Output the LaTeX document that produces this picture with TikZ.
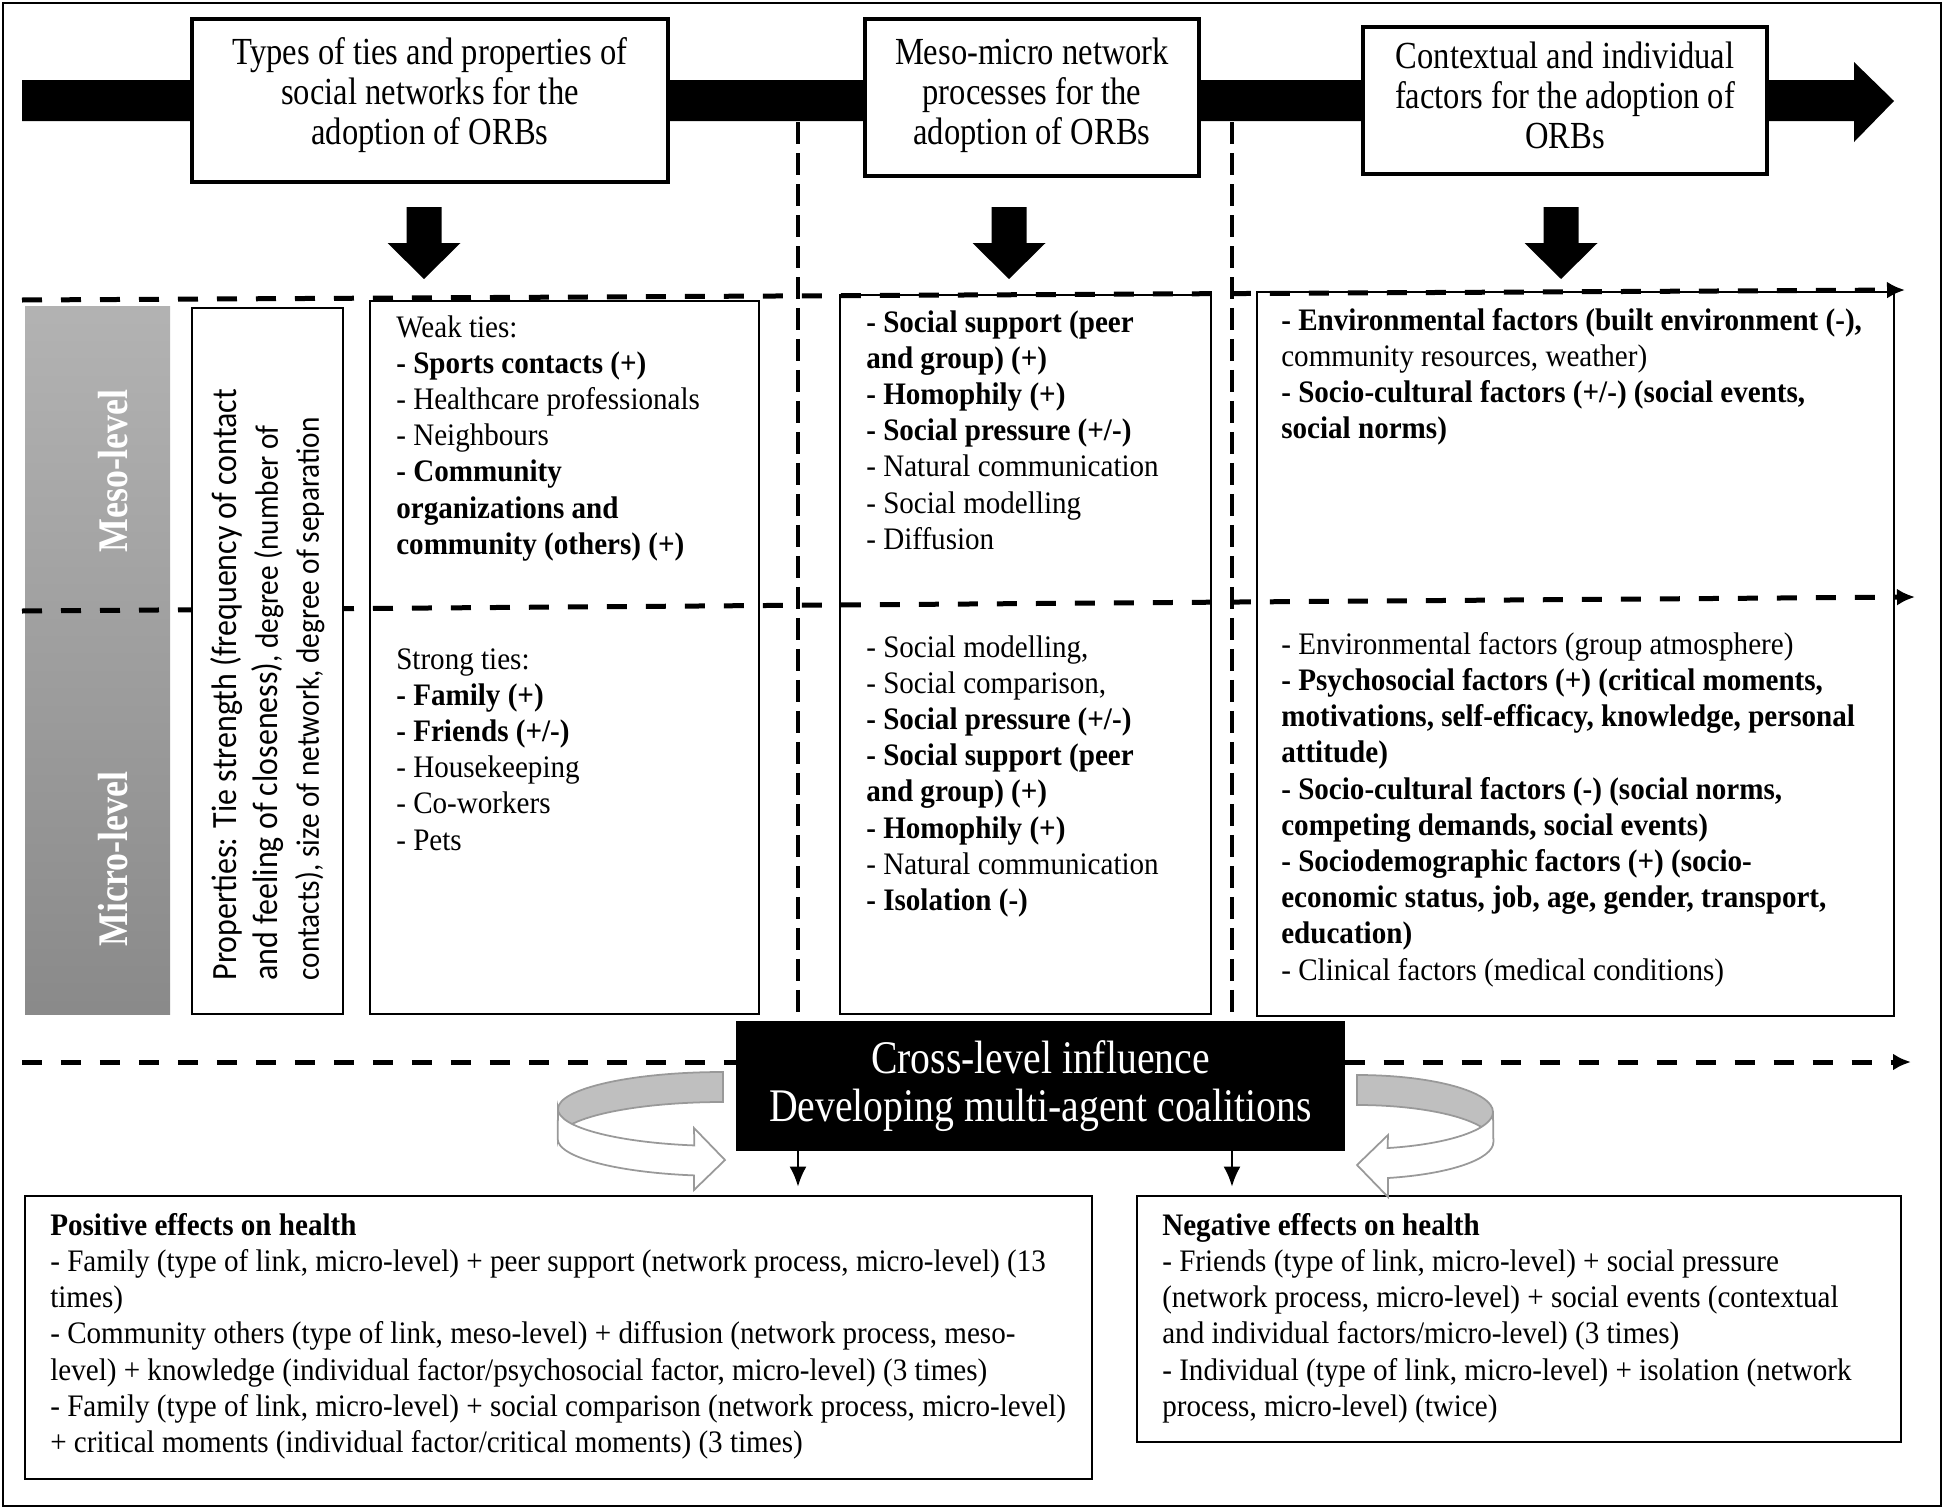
\documentclass[tikz,border=0pt]{standalone}
\usepackage{fontspec}
\setmainfont{Liberation Serif}[FakeStretch=0.85]
\newfontfamily\bodyfam{Liberation Serif}[FakeStretch=0.93]
\newfontfamily\propfont{Carlito}[FakeStretch=0.9]
\usetikzlibrary{positioning,arrows.meta}
\newcommand{\bodyfont}{\bodyfam\fontsize{8.9}{10.3}\selectfont}
\newcommand{\titlefont}{\fontsize{10.9}{11.4}\selectfont}
\newcommand{\crossfont}{\fontsize{13.3}{13.7}\selectfont}
\newcommand{\levelfont}{\fontsize{12}{14}\selectfont\bfseries}
\newcommand{\bigprop}{\fontsize{10.1}{11.7}\selectfont}
\newcommand{\smallprop}{\fontsize{9.25}{11.7}\selectfont}
\tikzstyle{framebox} = [draw, line width=0.8pt, inner sep=0pt]
\tikzstyle{titlebox} = [draw, line width=0.9pt, fill=white, align=center, font=\titlefont]
\tikzstyle{txt} = [anchor=north west, align=left, inner sep=0pt, font=\bodyfont]
\tikzstyle{levelname} = [rotate=90, text=white, font=\levelfont, inner sep=0pt]
\tikzstyle{sepline} = [line width=0.5mm, dash pattern=on 2mm off 1.9mm, -{Latex[length=1.8mm,width=1.7mm]}]
\tikzstyle{vdash} = [line width=0.35mm, dash pattern=on 2.2mm off 0.9mm]
\tikzstyle{drop} = [-{Latex[length=2mm,width=1.7mm]}, line width=0.6pt, shorten >=0.8mm]
\tikzstyle{backband} = [fill=black!25, draw=black!40, line width=0.5pt]
\tikzstyle{frontband} = [fill=white, draw=black!40, line width=0.5pt]

\begin{document}
\begin{tikzpicture}[x=0.1mm, y=-0.1mm]
\useasboundingbox (0,0) rectangle (1946,1511);
% main bar
\fill (22,80) -- (1854,80) -- (1854,62) -- (1894,101) -- (1854,142) -- (1854,121) -- (22,121) -- cycle;
\node[titlebox, minimum width=47.6mm, minimum height=16.3mm, text depth=5.2pt] (tiestitle) at (430,100.5)
  {Types of ties and properties of\\ social networks for the\\ adoption of ORBs};
\node[titlebox, minimum width=33.4mm, minimum height=15.7mm, text depth=3.8pt] (proctitle) at (1032,97.5)
  {Meso-micro network\\ processes for the\\ adoption of ORBs};
\node[titlebox, minimum width=40.4mm, minimum height=14.7mm, text depth=2.8pt] (ctxtitle) at (1565,100.5)
  {Contextual and individual\\ factors for the adoption of\\ ORBs};
% block arrows
\fill[shift={(424,0)}] (-17.5,207) -- (17.5,207) -- (17.5,243) -- (36.5,243) -- (0,279) -- (-36.5,243) -- (-17.5,243) -- cycle;
\fill[shift={(1009,0)}] (-17.5,207) -- (17.5,207) -- (17.5,243) -- (36.5,243) -- (0,279) -- (-36.5,243) -- (-17.5,243) -- cycle;
\fill[shift={(1561,0)}] (-17.5,207) -- (17.5,207) -- (17.5,243) -- (36.5,243) -- (0,279) -- (-36.5,243) -- (-17.5,243) -- cycle;
% levels
\node[top color=black!30, bottom color=black!46, minimum width=14.5mm, minimum height=70.8mm, inner sep=0pt] (levels) at (97.5,660) {};
\node[levelname] (meso) at (113,471) {Meso-level};
\node[levelname] (micro) at (113,859) {Micro-level};
% level lines
\coordinate (mesoL) at (22,300);
\coordinate (mesoR) at (1905,290);
\coordinate (microL) at (22,611);
\coordinate (microR) at (1915,597);
\coordinate (crossL) at (22,1062);
\coordinate (crossR) at (1911,1062);
\coordinate (split1) at (798,122);
\coordinate (split2) at (1232,122);
\draw[sepline] (mesoL) -- (mesoR);
\draw[sepline] (microL) -- (microR);
% boxes
\node[framebox, fill=white, minimum width=15.1mm, minimum height=70.6mm] (props) at (267.5,661) {};
\node[framebox, minimum width=38.9mm, minimum height=71.3mm] (ties) at (564.5,657.5) {};
\node[framebox, minimum width=37.1mm, minimum height=71.9mm] (netproc) at (1025.5,654.5) {};
\node[framebox, minimum width=63.7mm, minimum height=72.4mm] (factors) at (1575.5,654) {};
\node[framebox, minimum width=106.7mm, minimum height=28.3mm] (pos) at (558.5,1337.5) {};
\node[framebox, minimum width=76.4mm, minimum height=24.6mm] (neg) at (1519,1319) {};
\node[draw, fill=black, text=white, align=center, font=\crossfont, minimum width=60.7mm, minimum height=12.8mm] (cross) at (1040.5,1086)
  {Cross-level influence\\ Developing multi-agent coalitions};
\draw[sepline, -] (crossL) -- (crossL -| cross.west);
\draw[sepline] (crossL -| cross.east) -- (crossR);
\draw[vdash] (split1) -- (split1 |- cross.north);
\draw[vdash] (split2) -- (split2 |- cross.north);
\draw[drop] (split1 |- cross.south) -- (split1 |- pos.north);
\draw[drop] (split2 |- cross.south) -- (split2 |- neg.north);
% properties
\node[rotate=90, anchor=north west, align=left, inner sep=0pt, font=\propfont\smallprop] (proptext) at (210,981)
  {\bigprop Properties: Tie strength (frequency of contact\\
   \bigprop and feeling of closeness)\smallprop, degree (number of\\
   \smallprop contacts), size of network, degree of separation};
% texts
\node[txt, below right=1.5mm and 2.7mm of ties.north west] (weak)
  {Weak ties:\\ \textbf{- Sports contacts (+)}\\ - Healthcare professionals\\ - Neighbours\\
   \textbf{- Community}\\ \textbf{organizations and}\\ \textbf{community (others) (+)}};
\node[txt, below right=34.8mm and 2.7mm of ties.north west] (strong)
  {Strong ties:\\ \textbf{- Family (+)}\\ \textbf{- Friends (+/-)}\\ - Housekeeping\\ - Co-workers\\ - Pets};
\node[txt, below right=1.6mm and 2.7mm of netproc.north west] (mesoproc)
  {\textbf{- Social support (peer}\\ \textbf{and group) (+)}\\ \textbf{- Homophily (+)}\\ \textbf{- Social pressure (+/-)}\\
   - Natural communication\\ - Social modelling\\ - Diffusion};
\node[txt, below right=34.1mm and 2.7mm of netproc.north west] (microproc)
  {- Social modelling,\\ - Social comparison,\\ \textbf{- Social pressure (+/-)}\\ \textbf{- Social support (peer}\\
   \textbf{and group) (+)}\\ \textbf{- Homophily (+)}\\ - Natural communication\\ \textbf{- Isolation (-)}};
\node[txt, below right=1.7mm and 2.5mm of factors.north west] (mesofac)
  {\textbf{- Environmental factors (built environment (-),}\\ community resources, weather)\\
   \textbf{- Socio-cultural factors (+/-) (social events,}\\ \textbf{social norms)}};
\node[txt, below right=34.1mm and 2.5mm of factors.north west] (microfac)
  {- Environmental factors (group atmosphere)\\
   \textbf{- Psychosocial factors (+) (critical moments,}\\ \textbf{motivations, self-efficacy, knowledge, personal}\\ \textbf{attitude)}\\
   \textbf{- Socio-cultural factors (-) (social norms,}\\ \textbf{competing demands, social events)}\\
   \textbf{- Sociodemographic factors (+) (socio-}\\ \textbf{economic status, job, age, gender, transport,}\\ \textbf{education)}\\
   - Clinical factors (medical conditions)};
\node[txt, below right=1.8mm and 2.6mm of pos.north west] (postext)
  {\textbf{Positive effects on health}\\
   - Family (type of link, micro-level) + peer support (network process, micro-level) (13\\ times)\\
   - Community others (type of link, meso-level) + diffusion (network process, meso-\\
   level) + knowledge (individual factor/psychosocial factor, micro-level) (3 times)\\
   - Family (type of link, micro-level) + social comparison (network process, micro-level)\\
   + critical moments (individual factor/critical moments) (3 times)};
\node[txt, below right=1.8mm and 2.6mm of neg.north west] (negtext)
  {\textbf{Negative effects on health}\\
   - Friends (type of link, micro-level) + social pressure\\
   (network process, micro-level) + social events (contextual\\
   and individual factors/micro-level) (3 times)\\
   - Individual (type of link, micro-level) + isolation (network\\
   process, micro-level) (twice)};
% swirls
\filldraw[backband] (723,1072) arc[start angle=-90, end angle=-180, x radius=165, y radius=37] -- (558,1139)
  arc[start angle=-180, end angle=-90, x radius=165, y radius=37] -- cycle;
\filldraw[frontband] (558,1109) arc[start angle=180, end angle=100, x radius=165, y radius=37] -- (694,1128) -- (725,1160)
  -- (694,1190) -- (694,1175.4) arc[start angle=100, end angle=180, x radius=165, y radius=37] -- cycle;
\filldraw[backband] (1357,1075) arc[start angle=-90, end angle=0, x radius=136, y radius=37] -- (1493,1142)
  arc[start angle=0, end angle=-90, x radius=136, y radius=37] -- cycle;
\filldraw[frontband] (1493,1112) arc[start angle=0, end angle=77, x radius=136, y radius=37] -- (1388,1135) -- (1357,1165)
  -- (1388,1197) -- (1388,1178) arc[start angle=77, end angle=0, x radius=136, y radius=37] -- cycle;
% frame
\draw[line width=0.6pt] (3,3) rectangle (1941,1506);
\end{tikzpicture}
\end{document}
